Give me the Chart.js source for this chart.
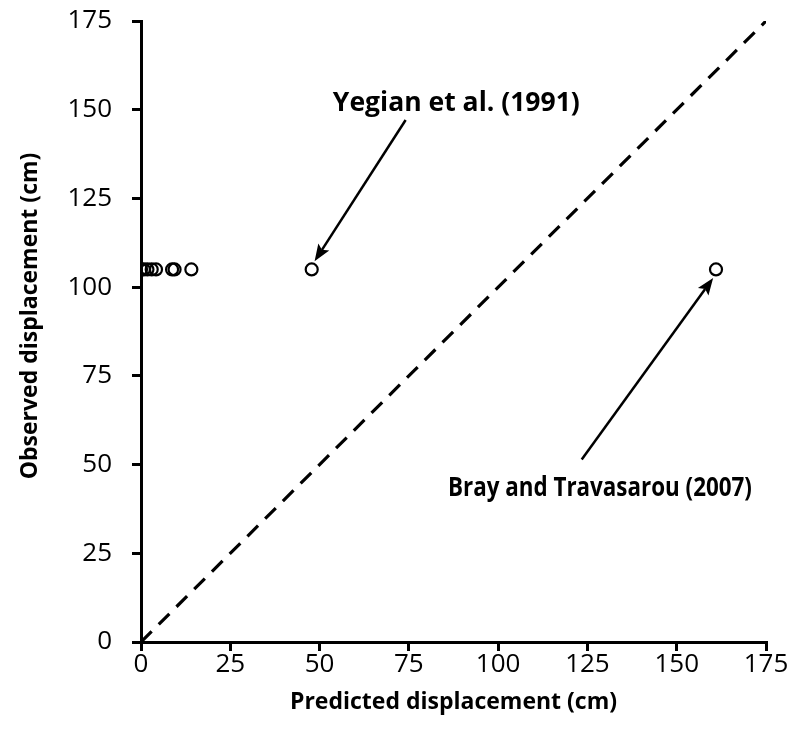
<!DOCTYPE html>
<html><head><meta charset="utf-8">
<script src="https://cdn.jsdelivr.net/npm/chart.js@4.4.0/dist/chart.umd.min.js"></script>
<style>html,body{margin:0;padding:0;background:#fff;}#wrap{width:795px;height:754px;}</style>
</head><body><div id="wrap"><canvas id="c" width="795" height="754"></canvas></div>
<script>
// ---- data ----
const predicted = [0, 0.8, 1.8, 3.0, 4.2, 8.7, 9.4, 14.1, 47.8, 161.0];
const observed  = [105, 105, 105, 105, 105, 105, 105, 105, 105, 105];
const equalityX = [0, 175];
const equalityY = [0, 175];
const axisMin = 0, axisMax = 175, axisStep = 25;
const xTitle = 'Predicted displacement (cm)';
const yTitle = 'Observed displacement (cm)';
const noteTexts = ['Yegian et al. (1991)', 'Bray and Travasarou (2007)'];
const noteTextAt = [[88.3, 149.7], [128.5, 41.2]];
const noteArrowFrom = [[74.1, 147.1], [123.4, 51.4]];
const noteArrowTo = [[48.6, 107.3], [160.2, 102.6]];

const FONT = "'Open Sans', 'Liberation Sans', sans-serif";

const annotationPlugin = {
  id: 'notes',
  afterDatasetsDraw(chart, args, opts) {
    const ctx = chart.ctx, xs = chart.scales.x, ys = chart.scales.y;
    ctx.save();
    ctx.strokeStyle = '#000'; ctx.fillStyle = '#000';
    for (let i = 0; i < noteTexts.length; i++) {
      const x0 = xs.getPixelForValue(noteArrowFrom[i][0]), y0 = ys.getPixelForValue(noteArrowFrom[i][1]);
      const x1 = xs.getPixelForValue(noteArrowTo[i][0]), y1 = ys.getPixelForValue(noteArrowTo[i][1]);
      const ang = Math.atan2(y1 - y0, x1 - x0);
      const L = opts.headLength, W = opts.headHalfWidth;
      const bx = x1 - Math.cos(ang) * L * 0.8, by = y1 - Math.sin(ang) * L * 0.8;
      ctx.lineWidth = opts.lineWidth;
      ctx.beginPath(); ctx.moveTo(x0, y0); ctx.lineTo(bx, by); ctx.stroke();
      const px = -Math.sin(ang), py = Math.cos(ang);
      const wx = x1 - Math.cos(ang) * L, wy = y1 - Math.sin(ang) * L;
      ctx.beginPath();
      ctx.moveTo(x1, y1);
      ctx.lineTo(wx + px * W, wy + py * W);
      ctx.lineTo(bx, by);
      ctx.lineTo(wx - px * W, wy - py * W);
      ctx.closePath(); ctx.fill();
      // text
      ctx.font = 'bold ' + opts.fontSize + 'px ' + FONT;
      ctx.textAlign = 'center'; ctx.textBaseline = 'alphabetic';
      const w = ctx.measureText(noteTexts[i]).width;
      const sx = opts.textWidths[i] / w;
      ctx.save();
      ctx.translate(xs.getPixelForValue(noteTextAt[i][0]), ys.getPixelForValue(noteTextAt[i][1]));
      ctx.scale(sx, 1);
      ctx.fillText(noteTexts[i], 0, 0);
      ctx.restore();
    }
    // y axis title
    ctx.save();
    ctx.font = 'bold 23px ' + FONT;
    ctx.textAlign = 'center'; ctx.textBaseline = 'middle';
    ctx.translate(opts.yTitleX, opts.yTitleY);
    ctx.rotate(-Math.PI / 2);
    ctx.fillText(yTitle, 0, 0);
    ctx.restore();
    ctx.restore();
  }
};

function axisOpts(title, isX) {
  return {
    type: 'linear', min: axisMin, max: axisMax,
    ticks: { stepSize: axisStep, color: '#000', font: { family: FONT, size: 26 }, padding: isX ? -2 : 20 },
    grid: { display: true, drawOnChartArea: false, drawTicks: true, tickLength: 9, color: '#000', lineWidth: 3 },
    border: { display: true, color: '#000', width: 3 },
    title: { display: isX, text: title, color: '#000', font: { family: FONT, size: 23, weight: 'bold' },
             padding: { top: 0, bottom: 38 } },
    afterFit: (s) => {
      if (isX) { s.height = 112; s.paddingLeft = 0; s.paddingRight = 0; }
      else { s.width = 141; s.paddingTop = 0; s.paddingBottom = 0; }
    }
  };
}

new Chart(document.getElementById('c'), {
  type: 'scatter',
  data: {
    datasets: [
      {
        label: 'Observed vs predicted',
        data: predicted.map((v, i) => ({ x: v, y: observed[i] })),
        pointStyle: 'circle', pointRadius: 6, pointBorderWidth: 2.2,
        borderColor: '#000', backgroundColor: 'rgba(255,255,255,0)',
        pointBackgroundColor: 'rgba(255,255,255,0)', pointBorderColor: '#000'
      },
      {
        label: '1:1',
        data: equalityX.map((v, i) => ({ x: v, y: equalityY[i] })),
        showLine: true, borderColor: '#000', borderWidth: 3.2, borderDash: [15, 10],
        pointRadius: 0, fill: false
      }
    ]
  },
  options: {
    responsive: false, animation: false, devicePixelRatio: 1,
    layout: { padding: { top: 21, right: 29, left: 0, bottom: 0 } },
    plugins: {
      legend: { display: false }, tooltip: { enabled: false },
      notes: { lineWidth: 2.5, headLength: 17, headHalfWidth: 6.5, fontSize: 26, textWidths: [247, 304],
               yTitleX: 30, yTitleY: 316 }
    },
    scales: { x: axisOpts(xTitle, true), y: axisOpts(yTitle, false) }
  },
  plugins: [annotationPlugin]
});
</script></body></html>
